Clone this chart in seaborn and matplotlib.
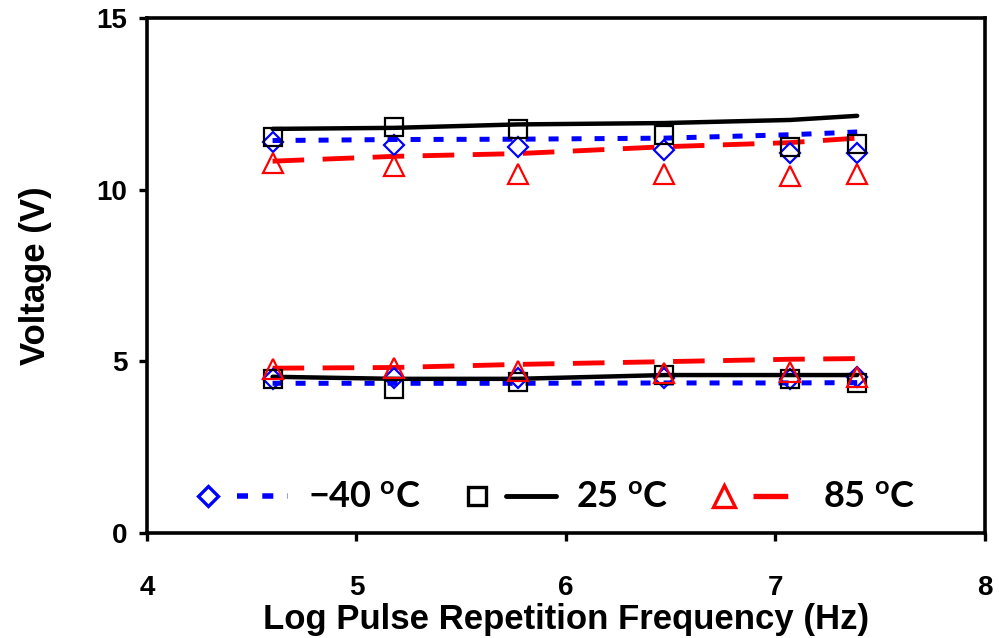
import matplotlib
matplotlib.use("Agg")
import matplotlib.pyplot as plt
from matplotlib.lines import Line2D
from matplotlib.legend_handler import HandlerTuple
import seaborn as sns
import pandas as pd

# Measured points (log of pulse repetition frequency, Hz)
freq_log = [4.60, 5.18, 5.77, 6.47, 7.07, 7.39]

# Upper output level (V)
hi_m40 = [11.39, 11.29, 11.25, 11.15, 11.08, 11.08]
hi_25 = [11.53, 11.82, 11.78, 11.59, 11.23, 11.33]
hi_85 = [10.78, 10.69, 10.45, 10.47, 10.41, 10.45]

# Lower output level (V)
lo_m40 = [4.49, 4.50, 4.52, 4.52, 4.48, 4.54]
lo_25 = [4.49, 4.19, 4.41, 4.60, 4.49, 4.38]
lo_85 = [4.77, 4.81, 4.73, 4.65, 4.68, 4.55]

# Model curves at the same frequencies
fit_hi_m40 = [11.43, 11.46, 11.47, 11.50, 11.60, 11.68]
fit_hi_25 = [11.77, 11.80, 11.90, 11.94, 12.03, 12.15]
fit_hi_85 = [10.83, 10.97, 11.05, 11.25, 11.37, 11.50]
fit_lo_m40 = [4.36, 4.36, 4.36, 4.37, 4.37, 4.38]
fit_lo_25 = [4.55, 4.49, 4.49, 4.60, 4.60, 4.60]
fit_lo_85 = [4.80, 4.82, 4.91, 4.99, 5.06, 5.08]

temps = ["\u221240", "25", "85"]
x_ticks = [4, 5, 6, 7, 8]
y_ticks = [0, 5, 10, 15]

sns.set_theme(style="white")
plt.rcParams["font.family"] = ["Liberation Sans", "DejaVu Sans"]
plt.rcParams["font.weight"] = "bold"
for key in ("text.color", "axes.labelcolor", "xtick.color", "ytick.color",
            "xtick.labelcolor", "ytick.labelcolor"):
    plt.rcParams[key] = "black"

fig = plt.figure(figsize=(9.99, 6.38), dpi=100)
ax = fig.add_axes([0.147, 0.1646, 0.839, 0.8072])

styles = {
    "\u221240": dict(color="#0000FF", marker="D", ms=10.0, dashes=(2.0, 2.6), lw=3.6),
    "25": dict(color="#000000", marker="s", ms=13.0, dashes=None, lw=3.2),
    "85": dict(color="#FF0000", marker="^", ms=14.5, dashes=(6.5, 3.8), lw=3.5),
}

meas = {"\u221240": (hi_m40, lo_m40), "25": (hi_25, lo_25), "85": (hi_85, lo_85)}
fits = {"\u221240": (fit_hi_m40, fit_lo_m40), "25": (fit_hi_25, fit_lo_25),
        "85": (fit_hi_85, fit_lo_85)}

handles = []
for t in temps:
    st = styles[t]
    for curve in fits[t]:
        df = pd.DataFrame({"f": freq_log, "v": curve})
        kw = dict(color=st["color"], lw=st["lw"])
        if st["dashes"] is not None:
            kw["dashes"] = st["dashes"]
        sns.lineplot(data=df, x="f", y="v", ax=ax, estimator=None,
                     errorbar=None, zorder=2, **kw)
    for pts in meas[t]:
        df = pd.DataFrame({"f": freq_log, "v": pts})
        sns.lineplot(data=df, x="f", y="v", ax=ax, estimator=None,
                     errorbar=None, linestyle="none", marker=st["marker"],
                     ms=st["ms"], mfc="none", mec=st["color"], mew=1.6,
                     zorder=3)
    mk = Line2D([], [], linestyle="none", marker=st["marker"], ms=st["ms"] * 1.05,
                mfc="none", mec=st["color"], mew=2.4)
    ln_kw = dict(color=st["color"], lw=st["lw"] * 1.1)
    if st["dashes"] is not None:
        ln_kw["dashes"] = st["dashes"]
    ln = Line2D([], [], **ln_kw)
    handles.append((mk, ln))

labels = [f"{t} $\\mathregular{{^o}}$C" for t in temps]
ax.legend(handles, labels, handler_map={tuple: HandlerTuple(ndivide=None, pad=0.1)},
          ncol=3, loc="center", bbox_to_anchor=(0.48, 0.068), frameon=False,
          handlelength=2.9, handletextpad=0.55, columnspacing=0.85,
          prop=dict(family=["Lato", "DejaVu Sans"], weight="bold", size=26))

ax.set_xlim(4, 8)
ax.set_ylim(0, 15)
ax.set_xticks(x_ticks)
ax.set_yticks(y_ticks)
ax.set_xlabel("Log Pulse Repetition Frequency (Hz)", fontsize=25, fontweight="bold",
              labelpad=2)
ax.set_ylabel("Voltage (V)", fontsize=25, fontweight="bold", labelpad=32)
ax.tick_params(axis="both", which="major", direction="out", length=6, width=2.4,
               labelsize=20, color="black", bottom=True, left=True)
ax.tick_params(axis="x", pad=24)
ax.tick_params(axis="y", pad=8)
for lab in ax.get_xticklabels() + ax.get_yticklabels():
    lab.set_fontweight("bold")
for sp in ax.spines.values():
    sp.set_visible(True)
    sp.set_color("black")
    sp.set_linewidth(2.6)
ax.grid(False)

fig.savefig("out.png", dpi=100)
